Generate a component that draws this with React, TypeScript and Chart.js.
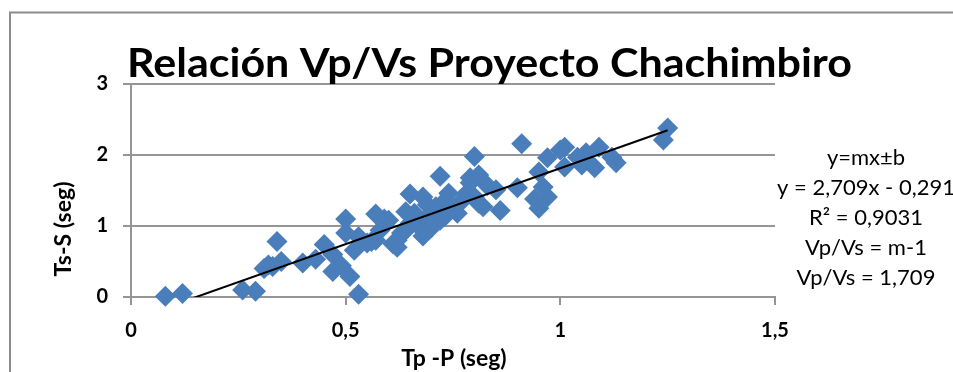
import React, { useEffect, useRef } from "react";
import { Chart, registerables } from "chart.js";

Chart.register(...registerables);

// Tp-P (seg) for each station reading
const tpP = [
  0.08, 0.12, 0.26, 0.29, 0.31, 0.32, 0.33, 0.34, 0.35, 0.4,
  0.43, 0.45, 0.47, 0.47, 0.49, 0.5, 0.5, 0.51, 0.52, 0.53,
  0.53, 0.55, 0.56, 0.57, 0.58, 0.59, 0.6, 0.62, 0.62, 0.64,
  0.65, 0.65, 0.66, 0.68, 0.68, 0.68, 0.69, 0.7, 0.71, 0.72,
  0.72, 0.73, 0.73, 0.74, 0.76, 0.79, 0.8, 0.81, 0.81, 0.83,
  0.79, 0.8, 0.82, 0.85, 0.86, 0.9, 0.91, 0.94, 0.95, 0.97,
  0.96, 0.97, 0.95, 1.0, 1.01, 1.01, 1.04, 1.05, 1.06, 1.06,
  1.09, 1.08, 1.13, 1.12, 1.24, 1.25, 0.63, 0.67, 0.7, 0.75,
  0.77, 0.64, 0.57, 0.61, 0.78, 0.69,
];

// Ts-S (seg) for the same readings
const tsS = [
  0.01, 0.05, 0.1, 0.08, 0.4, 0.45, 0.43, 0.78, 0.5, 0.48,
  0.53, 0.74, 0.36, 0.6, 0.44, 1.1, 0.9, 0.29, 0.66, 0.04,
  0.85, 0.76, 0.78, 1.17, 0.94, 1.1, 1.08, 0.8, 0.7, 0.94,
  1.04, 1.45, 1.18, 0.94, 0.86, 1.41, 1.11, 1.18, 1.27, 1.7,
  1.08, 1.13, 1.35, 1.46, 1.18, 1.68, 1.98, 1.32, 1.72, 1.57,
  1.61, 1.41, 1.27, 1.51, 1.22, 1.54, 2.16, 1.38, 1.25, 1.41,
  1.55, 1.96, 1.76, 2.07, 2.11, 1.83, 1.97, 1.86, 2.03, 1.93,
  2.11, 1.82, 1.89, 1.97, 2.21, 2.38, 0.9, 1.0, 0.98, 1.25,
  1.35, 1.2, 0.8, 0.75, 1.45, 1.3,
];

const xTicks = [0, 0.5, 1, 1.5];
const yTicks = [0, 1, 2, 3];

const titleText = "Relación Vp/Vs Proyecto Chachimbiro";
const xTitle = "Tp -P (seg)";
const yTitle = "Ts-S (seg)";
const noteLines = [
  "y=mx±b",
  "y = 2,709x - 0,291",
  "R² = 0,9031",
  "Vp/Vs = m-1",
  "Vp/Vs = 1,709",
];

const FONT = "Lato, 'Open Sans', 'DejaVu Sans', sans-serif";
const GRID = "#959595";
const MARKER = "#4a7ebb";

// least-squares line through the readings
function linearFit(xs: number[], ys: number[]) {
  const n = xs.length;
  let sx = 0, sy = 0, sxx = 0, sxy = 0;
  for (let i = 0; i < n; i++) {
    sx += xs[i];
    sy += ys[i];
    sxx += xs[i] * xs[i];
    sxy += xs[i] * ys[i];
  }
  const m = (n * sxy - sx * sy) / (n * sxx - sx * sx);
  const b = (sy - m * sx) / n;
  return { m, b };
}

const fmt = (v: number) => String(v).replace(".", ",");

const decorPlugin = {
  id: "decor",
  afterDraw(chart: any) {
    const ctx = chart.ctx as CanvasRenderingContext2D;
    const area = chart.chartArea;
    ctx.save();

    // outer frame (left and top edges)
    ctx.strokeStyle = "#8c8c8c";
    ctx.lineWidth = 2;
    ctx.beginPath();
    ctx.moveTo(10, 400);
    ctx.lineTo(10, 12.5);
    ctx.lineTo(1000, 12.5);
    ctx.stroke();

    ctx.fillStyle = "#000";

    // chart title
    ctx.font = `bold 40px ${FONT}`;
    ctx.textAlign = "center";
    ctx.textBaseline = "alphabetic";
    const tw = ctx.measureText(titleText).width;
    const sx = 725 / tw;
    ctx.save();
    ctx.translate(489.5, 77);
    ctx.scale(sx, 1);
    ctx.fillText(titleText, 0, 0);
    ctx.restore();

    // axis titles
    ctx.font = `bold 23px ${FONT}`;
    ctx.textBaseline = "middle";
    ctx.fillText(xTitle, (area.left + area.right) / 2 + 1, 359);
    ctx.save();
    ctx.translate(64, 229);
    ctx.rotate(-Math.PI / 2);
    ctx.fillText(yTitle, 0, 0);
    ctx.restore();

    // equation box
    ctx.font = `22px ${FONT}`;
    noteLines.forEach((line, i) => {
      ctx.fillText(line, 866, 158 + i * 30);
    });

    ctx.restore();
  },
};

export default function App() {
  const canvasRef = useRef<HTMLCanvasElement | null>(null);

  useEffect(() => {
    const canvas = canvasRef.current;
    if (!canvas) return;

    const points = tpP.map((x, i) => ({ x, y: tsS[i] }));
    const { m, b } = linearFit(tpP, tsS);
    const xMin = Math.min(...tpP);
    const xMax = Math.max(...tpP);
    const trend = [
      { x: xMin, y: m * xMin + b },
      { x: xMax, y: m * xMax + b },
    ];

    const tickFont = { family: FONT, weight: "bold" as const, size: 20 };

    const chart = new Chart(canvas, {
      type: "scatter",
      data: {
        datasets: [
          {
            type: "line",
            label: "Lineal",
            data: trend,
            borderColor: "#000",
            borderWidth: 2,
            pointRadius: 0,
            fill: false,
          },
          {
            type: "scatter",
            label: "Ts-S",
            data: points,
            pointStyle: "rectRot",
            pointRadius: 10.5,
            backgroundColor: MARKER,
            borderColor: MARKER,
            borderWidth: 0,
            clip: false,
          },
        ],
      },
      options: {
        responsive: false,
        animation: false,
        devicePixelRatio: 1,
        layout: { padding: { top: 84, right: 178, left: 0, bottom: 0 } },
        plugins: {
          legend: { display: false },
          tooltip: { enabled: false },
          title: { display: false },
        },
        scales: {
          x: {
            type: "linear",
            min: 0,
            max: 1.5,
            afterBuildTicks: (s: any) => {
              s.ticks = xTicks.map((v) => ({ value: v }));
            },
            afterFit: (s: any) => {
              s.height = 75;
            },
            ticks: {
              font: tickFont,
              color: "#000",
              padding: 14,
              callback: (v: any) => fmt(Number(v)),
            },
            grid: {
              drawOnChartArea: false,
              drawTicks: true,
              tickLength: 8,
              color: GRID,
              lineWidth: 2,
            },
            border: { color: GRID, width: 2 },
          },
          y: {
            type: "linear",
            min: 0,
            max: 3,
            afterBuildTicks: (s: any) => {
              s.ticks = yTicks.map((v) => ({ value: v }));
            },
            afterFit: (s: any) => {
              s.width = 131;
            },
            ticks: {
              font: tickFont,
              color: "#000",
              padding: 15,
              callback: (v: any) => fmt(Number(v)),
            },
            grid: {
              drawTicks: true,
              tickLength: 8,
              color: GRID,
              lineWidth: 2,
            },
            border: { color: GRID, width: 2 },
          },
        },
      },
      plugins: [decorPlugin],
    });

    let alive = true;
    if ((document as any).fonts) {
      Promise.all([
        document.fonts.load(`bold 40px Lato`),
        document.fonts.load(`22px Lato`),
      ]).then(() => {
        if (alive) chart.update();
      });
    }

    return () => {
      alive = false;
      chart.destroy();
    };
  }, []);

  return (
    <div
      style={{
        position: "fixed",
        left: 0,
        top: 0,
        width: 953,
        height: 372,
        background: "#fff",
        overflow: "hidden",
      }}
    >
      <canvas
        ref={canvasRef}
        width={953}
        height={372}
        style={{ display: "block", width: 953, height: 372 }}
      />
    </div>
  );
}
